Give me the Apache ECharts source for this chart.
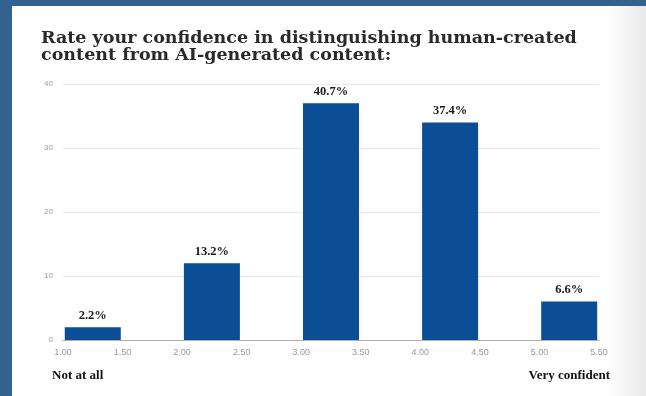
<!DOCTYPE html>
<html>
<head>
<meta charset="utf-8">
<script src="https://cdn.jsdelivr.net/npm/echarts@6/dist/echarts.min.js"></script>
<style>
  html, body { margin: 0; padding: 0; width: 646px; height: 396px; overflow: hidden; background: #33628f; }
  #card {
    position: absolute; left: 12px; top: 6px; width: 634px; height: 390px;
    background: linear-gradient(to right, #ffffff 0px, #ffffff 595px, #e9e9e9 634px);
  }
  #chart { position: absolute; left: 0; top: 0; width: 646px; height: 396px; }
</style>
</head>
<body>
<div id="card"></div>
<div id="chart"></div>
<script>
// Survey responses: 1 = not at all confident, 5 = very confident
const binStarts = [1, 2, 3, 4, 5];
const binWidth = 0.5;
const counts = [2, 12, 37, 34, 6];
const xTicks = ['1.00', '1.50', '2.00', '2.50', '3.00', '3.50', '4.00', '4.50', '5.00', '5.50'];
const yTicks = [0, 10, 20, 30, 40];
const titleLines = [
  'Rate your confidence in distinguishing human-created',
  'content from AI-generated content:'
];
const endLabels = ['Not at all', 'Very confident'];

const total = counts.reduce((a, b) => a + b, 0);
const barData = binStarts.map((s, i) => [s + binWidth / 2, counts[i]]);

const chart = echarts.init(document.getElementById('chart'), null, { renderer: 'canvas' });

chart.setOption({
  animation: false,
  backgroundColor: 'transparent',
  title: {
    text: titleLines.join('\n'),
    left: 36,
    top: 25,
    textStyle: {
      fontFamily: 'DejaVu Serif',
      fontWeight: 'bold',
      fontSize: 17.5,
      lineHeight: 17,
      color: '#2a2a2a'
    }
  },
  grid: { left: 63, right: 47, top: 84, bottom: 56, containLabel: false },
  xAxis: {
    type: 'value',
    min: 1,
    max: 5.5,
    interval: 0.5,
    axisLine: { show: true, lineStyle: { color: '#b9aea4', width: 1 } },
    axisTick: { show: false },
    splitLine: { show: false },
    axisLabel: {
      color: '#9a9a9a',
      fontFamily: 'Liberation Sans',
      fontSize: 9,
      margin: 8,
      formatter: (v) => xTicks[Math.round((v - 1) / 0.5)] || ''
    }
  },
  yAxis: {
    type: 'value',
    min: yTicks[0],
    max: yTicks[yTicks.length - 1],
    interval: 10,
    axisLine: { show: false },
    axisTick: { show: false },
    splitLine: { show: true, lineStyle: { color: '#e8e8e8', width: 1 } },
    axisLabel: {
      color: '#9a9a9a',
      fontFamily: 'Liberation Sans',
      fontSize: 8,
      margin: 10
    }
  },
  series: [{
    type: 'bar',
    data: barData,
    barWidth: 56,
    itemStyle: { color: '#0c4e95' },
    label: {
      show: true,
      position: 'top',
      distance: 5,
      fontFamily: 'Liberation Serif',
      fontWeight: 'bold',
      fontSize: 12.5,
      color: '#1a1a1a',
      formatter: (p) => (p.value[1] / total * 100).toFixed(1) + '%'
    }
  }],
  graphic: [
    {
      type: 'text', left: 52, top: 369,
      style: { text: endLabels[0], font: 'bold 13px "Liberation Serif"', fill: '#111' }
    },
    {
      type: 'text', right: 36, top: 369,
      style: { text: endLabels[1], font: 'bold 13px "Liberation Serif"', fill: '#111' }
    }
  ]
});
</script>
</body>
</html>
